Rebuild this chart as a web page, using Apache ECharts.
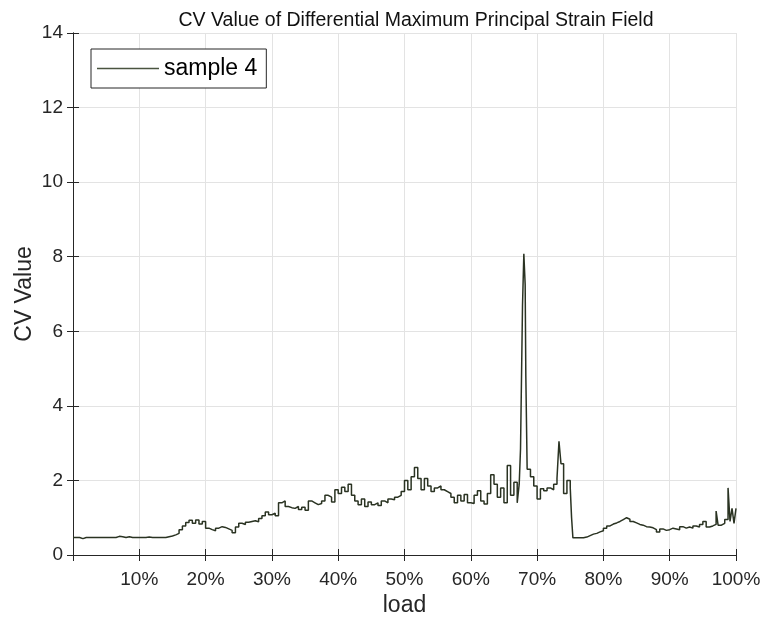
<!DOCTYPE html>
<html>
<head>
<meta charset="utf-8">
<script src="https://cdn.jsdelivr.net/npm/echarts@6/dist/echarts.min.js"></script>
<style>
  html, body { margin: 0; padding: 0; background: #fff; }
  #chart { width: 763px; height: 617px; }
</style>
</head>
<body>
<div id="chart"></div>
<script>
// load (%) and CV value
var loadPct = [
  0, 0.5, 1, 1.5, 2, 2.5, 3, 3.5, 4, 4.5, 5, 5.5, 6, 6.5, 7, 7.5, 8, 8.5, 9, 9.5,
  10, 10.5, 11, 11.5, 12, 12.5, 13, 13.5, 14, 14.5, 15, 15.5, 16, 16.5, 17, 17.5, 18, 18.5, 19, 19.5,
  20, 20.5, 21, 21.5, 22, 22.5, 23, 23.5, 24, 24.5, 25, 25.5, 26, 26.5, 27, 27.5, 28, 28.5, 29, 29.5,
  30, 30.5, 31, 31.5, 32, 32.5, 33, 33.5, 34, 34.5, 35, 35.5, 36, 36.5, 37, 37.5, 38, 38.5, 39, 39.5,
  40, 40.5, 41, 41.5, 42, 42.5, 43, 43.5, 44, 44.5, 45, 45.5, 46, 46.5, 47, 47.5, 48, 48.5, 49, 49.5,
  50, 50.5, 51, 51.5, 52, 52.5, 53, 53.5, 54, 54.5, 55, 55.5, 56, 56.5, 57, 57.5, 58, 58.5, 59, 59.5,
  60, 60.5, 61, 61.5, 62, 62.5, 63, 63.5, 64, 64.5, 65, 65.5, 66, 66.5, 67, 67.3, 67.5, 67.8, 68, 68.2, 68.3, 68.5,
  69, 69.5, 70, 70.5, 71, 71.5, 72, 72.5, 73, 73.3, 73.6, 74, 74.5, 75, 75.2, 75.4, 76, 76.5, 77, 77.5, 78, 78.5, 79, 79.5,
  80, 80.5, 81, 81.5, 82, 82.5, 83, 83.5, 84, 84.5, 85, 85.5, 86, 86.5, 87, 87.5, 88, 88.5, 89, 89.5,
  90, 90.5, 91, 91.5, 92, 92.5, 93, 93.5, 94, 94.5, 95, 95.5, 96, 96.5, 97, 97.3, 97.8, 98.3, 98.8, 99.1, 99.4, 99.7, 100
];
var cvValue = [
  0.47, 0.47, 0.44, 0.47, 0.47, 0.47, 0.47, 0.47, 0.47, 0.47, 0.47, 0.47, 0.47, 0.5, 0.49, 0.47, 0.49, 0.47, 0.47, 0.47,
  0.47, 0.47, 0.48, 0.47, 0.47, 0.47, 0.47, 0.47, 0.49, 0.51, 0.54, 0.58, 0.68, 0.78, 0.87, 0.93, 0.85, 0.94, 0.83, 0.9,
  0.72, 0.68, 0.65, 0.72, 0.76, 0.74, 0.7, 0.66, 0.6, 0.75, 0.85, 0.82, 0.88, 0.9, 0.92, 0.89, 0.98, 1.05, 1.15, 1.08,
  1.12, 1.05, 1.4, 1.45, 1.3, 1.27, 1.25, 1.3, 1.22, 1.28, 1.2, 1.45, 1.4, 1.35, 1.38, 1.45, 1.6, 1.55, 1.42, 1.75,
  1.65, 1.82, 1.7, 1.9, 1.6, 1.45, 1.35, 1.5, 1.3, 1.42, 1.35, 1.4, 1.33, 1.45, 1.4, 1.5, 1.48, 1.55, 1.6, 1.7,
  2.0, 1.75, 2.1, 2.35, 2.05, 1.75, 2.05, 1.85, 1.7, 1.8, 1.85, 1.75, 1.7, 1.65, 1.55, 1.4, 1.6, 1.45, 1.62, 1.4,
  1.38, 1.6, 1.72, 1.45, 1.37, 1.65, 2.15, 1.9, 1.55, 1.8, 1.4, 2.4, 1.6, 1.95, 1.4, 1.9, 2.85, 6.7, 8.08, 7.25, 4.8, 2.3,
  2.1, 1.85, 1.5, 1.78, 1.72, 1.8, 1.75, 1.9, 2.05, 3.05, 2.45, 1.65, 2.0, 1.8, 1.0, 0.46, 0.46, 0.46, 0.48, 0.52, 0.56, 0.58, 0.62, 0.65,
  0.72, 0.78, 0.83, 0.86, 0.9, 0.95, 1.0, 0.96, 0.9, 0.86, 0.82, 0.8, 0.76, 0.75, 0.73, 0.68, 0.62, 0.7, 0.66, 0.68,
  0.72, 0.7, 0.68, 0.76, 0.72, 0.75, 0.72, 0.78, 0.75, 0.82, 0.9, 0.75, 0.78, 0.82, 1.18, 0.8, 0.85, 0.95, 1.8, 0.9, 1.25, 0.85, 1.25
];
var xTickLabels = ['', '10%', '20%', '30%', '40%', '50%', '60%', '70%', '80%', '90%', '100%'];
var yTicks = [0, 2, 4, 6, 8, 10, 12, 14];

var axisColor = '#262626';
var font = 'Liberation Sans, Arial, sans-serif';

var seriesData = loadPct.map(function (x, i) { return [x, cvValue[i]]; });

var chart = echarts.init(document.getElementById('chart'));
var option = {
  animation: false,
  backgroundColor: '#fff',
  title: {
    text: 'CV Value of Differential Maximum Principal Strain Field',
    left: 411,
    textAlign: 'center',
    top: 6,
    textStyle: { fontFamily: font, fontWeight: 'normal', fontSize: 19.5, color: '#111' }
  },
  legend: {
    left: 91,
    top: 49,
    orient: 'vertical',
    icon: 'rect',
    itemWidth: 62,
    itemHeight: 1.5,
    padding: [8, 9, 8, 6],
    borderColor: axisColor,
    borderWidth: 1,
    backgroundColor: '#fff',
    textStyle: { fontFamily: font, fontSize: 23, color: '#000' },
    data: ['sample 4']
  },
  grid: { left: 73, right: 27, top: 33, bottom: 62, containLabel: false, outerBoundsMode: 'none' },
  xAxis: [{
    type: 'value', min: 0, max: 100, interval: 10,
    name: 'load', nameLocation: 'middle', nameGap: 38,
    nameTextStyle: { fontFamily: font, fontSize: 23, color: axisColor },
    axisLine: { lineStyle: { color: axisColor, width: 1 } },
    axisTick: { inside: true, length: 6, lineStyle: { color: axisColor } },
    axisLabel: {
      margin: 15, fontFamily: font, fontSize: 19, color: axisColor,
      formatter: function (v) { return xTickLabels[Math.round(v / 10)]; }
    },
    splitLine: { show: true, lineStyle: { color: '#e3e3e3', width: 1 } }
  }, {
    type: 'value', min: 0, max: 100, interval: 10, position: 'top',
    axisLine: { show: true, lineStyle: { color: axisColor, width: 1 } },
    axisTick: { inside: true, length: 6, lineStyle: { color: axisColor } },
    axisLabel: { show: false },
    splitLine: { show: false }
  }],
  yAxis: [{
    type: 'value', min: 0, max: 14, interval: 2,
    name: 'CV Value', nameLocation: 'middle', nameGap: 37, nameRotate: 90,
    nameMoveOverlap: false,
    nameTextStyle: { fontFamily: font, fontSize: 23, color: axisColor },
    axisLine: { show: true, lineStyle: { color: axisColor, width: 1 } },
    axisTick: { show: true, inside: true, length: 6, lineStyle: { color: axisColor } },
    axisLabel: {
      margin: 10, fontFamily: font, fontSize: 19, color: axisColor,
      formatter: function (v) { return yTicks.indexOf(v) >= 0 ? String(v) : ''; }
    },
    splitLine: { show: true, lineStyle: { color: '#e3e3e3', width: 1 } }
  }, {
    type: 'value', min: 0, max: 14, interval: 2, position: 'right',
    axisLine: { show: true, lineStyle: { color: axisColor, width: 1 } },
    axisTick: { show: true, inside: true, length: 6, lineStyle: { color: axisColor } },
    axisLabel: { show: false },
    splitLine: { show: false }
  }],
  series: [{
    name: 'sample 4',
    type: 'line',
    step: 'end',
    symbol: 'none',
    xAxisIndex: 0,
    yAxisIndex: 0,
    data: seriesData,
    lineStyle: { color: '#2a3322', width: 1.5 },
    itemStyle: { color: '#4a5440' }
  }]
};
chart.setOption(option);
</script>
</body>
</html>
